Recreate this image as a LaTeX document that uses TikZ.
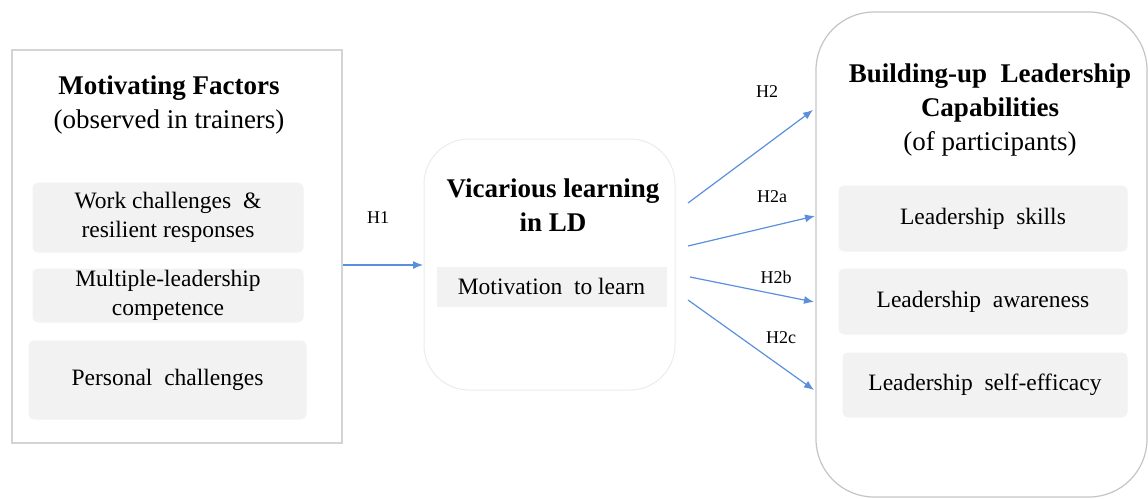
\documentclass[tikz,border=0pt]{standalone}
\usepackage{fontspec}
\setmainfont{Liberation Serif}
\usetikzlibrary{arrows.meta}
\definecolor{boxfill}{HTML}{F2F2F2}
\definecolor{outerline}{HTML}{D4D4D4}
\definecolor{rightline}{HTML}{C4C4C4}
\definecolor{midline}{HTML}{EBEBEB}
\definecolor{arrowblue}{HTML}{5B8FDB}
\tikzset{
  x=1pt, y=-1pt,
  panel/.style={draw=outerline, line width=1.2pt, fill=white},
  item/.style={fill=boxfill, draw=white, line width=1pt, rounded corners=6pt,
    align=center, inner sep=0pt, font=\fontsize{23.5}{29}\selectfont},
  heading/.style={align=center, inner sep=0pt, font=\fontsize{27}{34}\selectfont},
  hyp/.style={inner sep=0pt, font=\fontsize{18}{20}\selectfont},
  link/.style={draw=arrowblue, line width=1.2pt, -{Latex[length=10pt,width=8pt]}},
}
\begin{document}
\begin{tikzpicture}
\useasboundingbox (0,0) rectangle (1148,498);

% left panel: motivating factors
\node[panel, minimum width=330pt, minimum height=393pt] (left) at (177,246.5) {};
\node[heading] (lefttitle) at (169,105) {\textbf{Motivating Factors}\\(observed in trainers)};
\node[item, minimum width=272pt, minimum height=71pt] (work) at (168,217.5)
  {Work challenges \ \&\\resilient responses};
\node[item, minimum width=272pt, minimum height=55pt] (multi) at (168,295.5)
  {Multiple-leadership\\competence};
\node[item, minimum width=279pt, minimum height=80pt] (personal) at (167.5,380)
  {Personal \ challenges};

% middle panel: vicarious learning
\node[draw=midline, line width=1pt, rounded corners=45pt, minimum width=251pt,
  minimum height=251pt] (mid) at (549.5,264.5) {};
\node[heading] (midtitle) at (553,205) {\textbf{Vicarious learning}\\\textbf{in LD}};
\node[item, rounded corners=0pt, minimum width=231pt, minimum height=41pt] (motiv)
  at (551.5,286.5) {Motivation \ to learn};

% right panel: leadership capabilities
\node[draw=rightline, line width=1.2pt, rounded corners=58pt, minimum width=331pt,
  minimum height=485pt] (right) at (981.5,254.5) {};
\node[heading] (righttitle) at (990,110)
  {\textbf{Building-up \ Leadership}\\\textbf{Capabilities}\\(of participants)};
\node[item, minimum width=290pt, minimum height=67pt] (skills) at (983,218.5)
  {Leadership \ skills};
\node[item, minimum width=290pt, minimum height=67pt] (aware) at (983,301.5)
  {Leadership \ awareness};
\node[item, minimum width=286pt, minimum height=66pt] (efficacy) at (985,385)
  {Leadership \ self-efficacy};

% connector end points
\coordinate (h1s) at (left.east |- 0,265);
\coordinate (h1e) at (423,265);
\coordinate (h2s) at (688,203);  \coordinate (h2e) at (813,110);
\coordinate (h2as) at (688,246); \coordinate (h2ae) at (815,216);
\coordinate (h2bs) at (690,277); \coordinate (h2be) at (814,302);
\coordinate (h2cs) at (688,300); \coordinate (h2ce) at (814,390);

\draw[link] (h1s) -- (h1e);
\draw[link] (h2s) -- (h2e);
\draw[link] (h2as) -- (h2ae);
\draw[link] (h2bs) -- (h2be);
\draw[link] (h2cs) -- (h2ce);

% hypothesis labels
\node[hyp] (l1) at (378,218) {H1};
\node[hyp] (l2) at (767,92) {H2};
\node[hyp] (l2a) at (772,197) {H2a};
\node[hyp] (l2b) at (776,277) {H2b};
\node[hyp] (l2c) at (781,338) {H2c};
\end{tikzpicture}
\end{document}
